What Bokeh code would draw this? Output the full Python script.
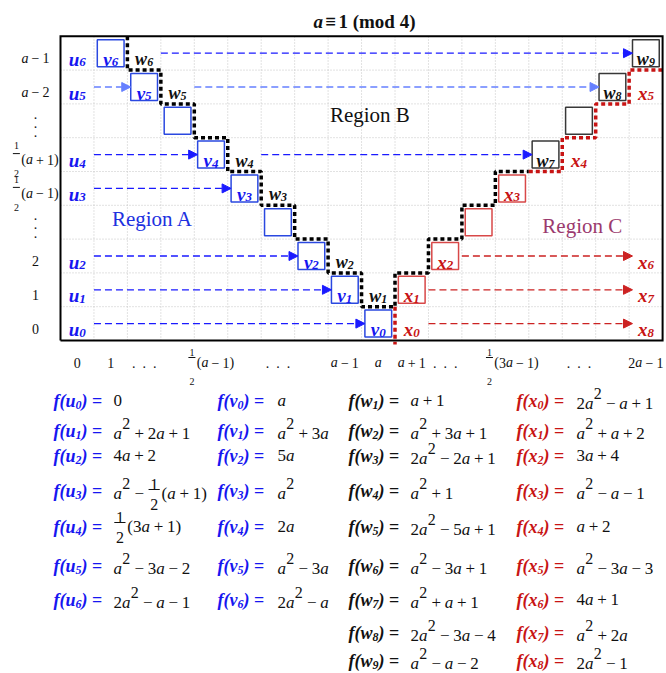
from bokeh.plotting import figure
from bokeh.models import Range1d, ColumnDataSource, Arrow, NormalHead
from bokeh.core.properties import value
from bokeh.embed import file_html
from bokeh.resources import INLINE

FONT = "Liberation Serif"

# ---------------- chart content ----------------
TITLE_VAR = "a"
TITLE_REST = ["≡", "1 (mod 4)"]

ROW_TICKS = ["0", "1", "2", ":", "1/2(a - 1)", "1/2(a + 1)", ":", "a - 2", "a - 1"]
COL_TICK_CELLS = [0, 1, 2, 4, 6, 8, 9, 10, 11, 13, 15, 17]
COL_TICKS = ["0", "1", "...", "1/2(a - 1)", "...", "a - 1", "a", "a + 1", "...",
             "1/2(3a - 1)", "...", "2a - 1"]

U_ROW = [0, 1, 2, 4, 5, 7, 8]
V_COL = [9, 8, 7, 5, 4, 2, 1]
V_ROW = [0, 1, 2, 4, 5, 7, 8]
W_IDX = [1, 2, 3, 4, 5, 6, 7, 8, 9]
W_COL = [9, 8, 6, 5, 3, 2, 14, 16, 17]
W_ROW = [1, 2, 4, 5, 7, 8, 5, 7, 8]
W_BOX = [0, 0, 0, 0, 0, 0, 1, 1, 1]
X_IDX = [0, 1, 2, 3, 4, 5, 6, 7, 8]
X_COL = [10, 10, 11, 13, 15, 17, 17, 17, 17]
X_ROW = [0, 1, 2, 4, 5, 7, 2, 1, 0]
X_BOX = [0, 1, 1, 1, 0, 0, 0, 0, 0]
EMPTY_COL = [6, 3, 12, 15]
EMPTY_ROW = [3, 6, 3, 6]
EMPTY_KIND = ["v", "v", "x", "w"]

ARROW_ROW = [0, 1, 2, 4, 5, 7, 8, 7, 5, 2, 1, 0]
ARROW_FROM = [0, 0, 0, 0, 0, 0, 2, 3, 5, 11, 10, 10]
ARROW_TO = [9, 8, 7, 5, 4, 2, 17, 16, 14, 17, 17, 17]
ARROW_KIND = ["blue", "blue", "blue", "blue", "blue", "light",
              "blue", "light", "blue", "red", "red", "red"]

BLACK_PATH_X = [2, 2, 3, 3, 4, 4, 5, 5, 6, 6, 7, 7, 8, 8, 9, 9, 10, 10, 11, 11, 12, 12, 13, 13, 14]
BLACK_PATH_Y = [9, 8, 8, 7, 7, 6, 6, 5, 5, 4, 4, 3, 3, 2, 2, 1, 1, 2, 2, 3, 3, 4, 4, 5, 5]
RED_PATH_X = [14, 15, 15, 16, 16, 17, 17, 18]
RED_PATH_Y = [5, 5, 6, 6, 7, 7, 8, 8]
RED_DROP_X = [10, 10]
RED_DROP_Y = [1, -0.12]

REGION_TEXT = ["Region A", "Region B", "Region C"]
REGION_CX = [2.75, 9.25, 15.6]
REGION_CY = [3.6, 6.66, 3.4]

F_U = ["0", "a^2 + 2a + 1", "4a + 2", "a^2 - 1/2(a + 1)", "1/2(3a + 1)", "a^2 - 3a - 2", "2a^2 - a - 1"]
F_V = ["a", "a^2 + 3a", "5a", "a^2", "2a", "a^2 - 3a", "2a^2 - a"]
F_W = ["a + 1", "a^2 + 3a + 1", "2a^2 - 2a + 1", "a^2 + 1", "2a^2 - 5a + 1", "a^2 - 3a + 1",
       "a^2 + a + 1", "2a^2 - 3a - 4", "a^2 - a - 2"]
F_X = ["2a^2 - a + 1", "a^2 + a + 2", "3a + 4", "a^2 - a - 1", "a + 2", "a^2 - 3a - 3",
       "4a + 1", "a^2 + 2a", "2a^2 - 1"]

# ---------------- styles / layout ----------------
BLUE = "#1616f0"
BOX_BLUE = "#2a48e0"
LIGHT_BLUE = "#6680ff"
RED = "#c81414"
BOX_RED = "#d84848"
BOX_BLACK = "#383838"
REG_C = "#9b3a6e"
BLACK = "#111111"

W_PX, H_PX = 666, 673
X0, CW = 60.0, 33.45
Y0, RH = 340.0, 33.8


def bx(b):
    return X0 + b * CW


def by(b):
    return Y0 - b * RH


def cx(c):
    return X0 + (c + 0.5) * CW


def cy(r):
    return Y0 - (r + 0.5) * RH


DIG = {d: 0.5 for d in "0123456789"}
WID = {
    "r": {**DIG, "(": .333, ")": .333, "+": .564, "−": .564, "=": .564, " ": .25, ".": .25, "≡": .564},
    "i": {"a": .5, "u": .5, "v": .444, "w": .667, "x": .444, "f": .278},
    "b": {**DIG, "(": .333, ")": .333, "m": .833, "o": .5, "d": .556, "≡": .57, "=": .57, " ": .25},
    "bi": {**DIG, "a": .5, "f": .333, "u": .556, "v": .444, "w": .667, "x": .5,
           "(": .333, ")": .333, "=": .57, " ": .25},
}
STYLE = {"r": "normal", "i": "italic", "b": "bold", "bi": "bold italic"}

GROUPS = {}
BARS = []


def put(x, y, txt, size, st, color, align="left", base="alphabetic"):
    key = (size, st, align, base)
    g = GROUPS.setdefault(key, dict(x=[], y=[], t=[], c=[]))
    g["x"].append(x)
    g["y"].append(y)
    g["t"].append(txt)
    g["c"].append(color)


def tw(txt, size, st):
    tab = WID[st]
    return sum(tab.get(ch, 0.5) for ch in txt) * size


def expr(x, y, s, size, color, sup_size, sup_rise, frac, gap_em=0.22, draw=True):
    x_start = x
    i = 0
    while i < len(s):
        if s.startswith("1/2", i):
            fs, bar_dy, num_dy, den_dy = frac
            w = tw("2", fs, "r") + 0.3 * fs
            if draw:
                put(x + w / 2, y + num_dy, "1", fs, "r", color, "center")
                put(x + w / 2, y + den_dy, "2", fs, "r", color, "center")
                BARS.append((x + 0.05 * fs, y + bar_dy, x + w - 0.05 * fs, color))
            x += w + 0.06 * size
            i += 3
            continue
        ch = s[i]
        if ch == "^":
            t = s[i + 1]
            if draw:
                put(x + 0.02 * size, y - sup_rise, t, sup_size, "r", color)
            x += tw(t, sup_size, "r") + 0.04 * size
            i += 2
            continue
        if ch == " ":
            x += gap_em * size
        elif ch == "a":
            if draw:
                put(x, y, "a", size, "i", color)
            x += tw("a", size, "i")
        else:
            t = "−" if ch == "-" else ch
            if draw:
                put(x, y, t, size, "r", color)
            x += tw(t, size, "r")
        i += 1
    return x - x_start


def node(xc, yb, letter, sub, color, size=19, subsize=13):
    w = tw(letter, size, "bi") + tw(sub, subsize, "bi")
    x = xc - w / 2
    put(x, yb, letter, size, "bi", color)
    put(x + tw(letter, size, "bi"), yb + 3, sub, subsize, "bi", color)


# ---------------- figure ----------------
p = figure(width=W_PX, height=H_PX, x_range=Range1d(0, W_PX), y_range=Range1d(H_PX, 0),
           output_backend="svg", toolbar_location=None, x_axis_type=None, y_axis_type=None,
           min_border=0, outline_line_color=None, background_fill_color="white",
           border_fill_color="white")
p.grid.visible = False

# grid
gx0, gy0, gx1, gy1 = [], [], [], []
for b in range(1, 18):
    gx0.append(bx(b)); gx1.append(bx(b)); gy0.append(by(0)); gy1.append(by(9))
for b in range(1, 9):
    gx0.append(bx(0)); gx1.append(bx(18)); gy0.append(by(b)); gy1.append(by(b))
p.segment(gx0, gy0, gx1, gy1, line_color="#c4c4c4", line_width=1, line_dash="1 2")

# boxes
bxs, bys, bcol = [], [], []
for c, r in zip(V_COL, V_ROW):
    bxs.append(cx(c)); bys.append(cy(r)); bcol.append(BOX_BLUE)
for c, r, k in zip(W_COL, W_ROW, W_BOX):
    if k:
        bxs.append(cx(c)); bys.append(cy(r)); bcol.append(BOX_BLACK)
for c, r, k in zip(X_COL, X_ROW, X_BOX):
    if k:
        bxs.append(cx(c)); bys.append(cy(r)); bcol.append(BOX_RED)
for c, r, k in zip(EMPTY_COL, EMPTY_ROW, EMPTY_KIND):
    bxs.append(cx(c)); bys.append(cy(r))
    bcol.append({"v": BOX_BLUE, "x": BOX_RED, "w": BOX_BLACK}[k])
p.rect(x=bxs, y=bys, width=0.8 * CW, height=0.8 * RH, width_units="screen",
       height_units="screen", fill_color="white", line_color=bcol, line_width=1.5)

# arrows
ARROW_COLOR = {"blue": "#1a1aff", "light": LIGHT_BLUE, "red": "#cc2222"}
for kind, col in ARROW_COLOR.items():
    xs0, ys0, xs1, ys1 = [], [], [], []
    for r, f, t, k in zip(ARROW_ROW, ARROW_FROM, ARROW_TO, ARROW_KIND):
        if k != kind:
            continue
        xs0.append(bx(f + 1)); xs1.append(cx(t) - 0.4 * CW)
        ys0.append(cy(r)); ys1.append(cy(r))
    src = ColumnDataSource(dict(x0=xs0, y0=ys0, x1=xs1, y1=ys1))
    p.add_layout(Arrow(end=NormalHead(size=9, fill_color=col, line_color=col, line_width=1),
                       x_start="x0", y_start="y0", x_end="x1", y_end="y1", source=src,
                       line_color=col, line_width=1.3, line_dash="7 4"))

# staircases
p.line([bx(v) for v in BLACK_PATH_X], [by(v) for v in BLACK_PATH_Y], line_color="black",
       line_width=3.5, line_dash="4 3")
p.line([bx(v) for v in RED_PATH_X], [by(v) for v in RED_PATH_Y], line_color=RED,
       line_width=3.5, line_dash="4 3")
p.line([bx(v) for v in RED_DROP_X], [by(v) for v in RED_DROP_Y], line_color=RED,
       line_width=3.5, line_dash="4 3")

# frame
p.line([bx(0), bx(18), bx(18), bx(0), bx(0)], [by(0), by(0), by(9), by(9), by(0)],
       line_color="black", line_width=2, line_join="miter")

# node labels
for i, r in enumerate(U_ROW):
    node(cx(0), cy(r) + 6, "u", str(i), BLUE)
for i, (c, r) in enumerate(zip(V_COL, V_ROW)):
    node(cx(c), cy(r) + 6, "v", str(i), BLUE)
for i, c, r in zip(W_IDX, W_COL, W_ROW):
    node(cx(c), cy(r) + 6, "w", str(i), BLACK, size=18, subsize=12)
for i, c, r in zip(X_IDX, X_COL, X_ROW):
    node(cx(c), cy(r) + 6, "x", str(i), RED)

# regions
for t, c, r, col in zip(REGION_TEXT, REGION_CX, REGION_CY, ["#2030e0", BLACK, REG_C]):
    put(bx(c), by(r), t, 21, "r", col, "center", "middle")

# title
tw_total = tw(TITLE_VAR, 19, "bi") + 0.12 * 19 + tw(TITLE_REST[0], 19, "b") + 0.12 * 19 \
    + tw(TITLE_REST[1], 19, "b")
tx = 364 - tw_total / 2
put(tx, 21, TITLE_VAR, 19, "bi", BLACK); tx += tw(TITLE_VAR, 19, "bi") + 0.12 * 19
put(tx, 21, TITLE_REST[0], 19, "b", BLACK); tx += tw(TITLE_REST[0], 19, "b") + 0.12 * 19
put(tx, 21, TITLE_REST[1], 19, "b", BLACK)

# left tick labels
LEFT_FRAC = (10, -6, -14, 14)
for r, s in enumerate(ROW_TICKS):
    if s == ":":
        for d in (-9, 0, 9):
            put(35, cy(r) + d + 2, ".", 14, "r", BLACK, "center")
        continue
    w = expr(0, 0, s, 14, BLACK, 12, 6, LEFT_FRAC, draw=False)
    expr(35 - w / 2, cy(r) + 5, s, 14, BLACK, 12, 6, LEFT_FRAC)

# bottom tick labels
BOT_FRAC = (10, -5, -10, 19)
for c, s in zip(COL_TICK_CELLS, COL_TICKS):
    if s == "...":
        for d in (-10.5, 0, 10.5):
            put(cx(c) + d, 362, ".", 14, "r", BLACK, "center")
        continue
    w = expr(0, 0, s, 14, BLACK, 12, 6, BOT_FRAC, draw=False)
    expr(cx(c) - w / 2, 362, s, 14, BLACK, 12, 6, BOT_FRAC)

# formula table
TAB_LX = [53, 217, 348, 516]
TAB_EX = [113, 277, 410, 576]
TAB_BASE = [400, 430, 455, 490, 526, 565, 599, 632, 660]
TAB_FRAC = (16, -4, -8.6, 11.4)


def flabel(x, y, letter, sub, color):
    put(x, y, "f(", 18, "bi", color); x += tw("f(", 18, "bi")
    put(x, y, letter, 18, "bi", color); x += tw(letter, 18, "bi")
    put(x, y + 4, sub, 12, "bi", color); x += tw(sub, 12, "bi")
    put(x, y, ")", 18, "bi", color); x += tw(")", 18, "bi") + 0.25 * 18
    put(x, y, "=", 18, "b", color)


FAMILIES = [("u", list(range(7)), F_U, BLUE, 0),
            ("v", list(range(7)), F_V, BLUE, 1),
            ("w", W_IDX, F_W, BLACK, 2),
            ("x", X_IDX, F_X, RED, 3)]
for letter, idxs, forms, col, k in FAMILIES:
    for row, (i, f) in enumerate(zip(idxs, forms)):
        yb = TAB_BASE[row]
        flabel(TAB_LX[k], yb, letter, str(i), col)
        shift = 3 if "^" in f else 0
        expr(TAB_EX[k], yb + shift, f, 17, BLACK, 16, 10, TAB_FRAC, gap_em=0.22)

# fraction bars
if BARS:
    p.segment([b[0] for b in BARS], [b[1] for b in BARS], [b[2] for b in BARS],
              [b[1] for b in BARS], line_color=BLACK, line_width=1)

# all texts
for (size, st, align, base), g in GROUPS.items():
    src = ColumnDataSource(g)
    p.text(x="x", y="y", text="t", text_color="c", source=src, text_font=value(FONT),
           text_font_size=f"{size}px", text_font_style=STYLE[st], text_align=align,
           text_baseline=base)

open("out.html", "w").write(file_html(p, INLINE))
